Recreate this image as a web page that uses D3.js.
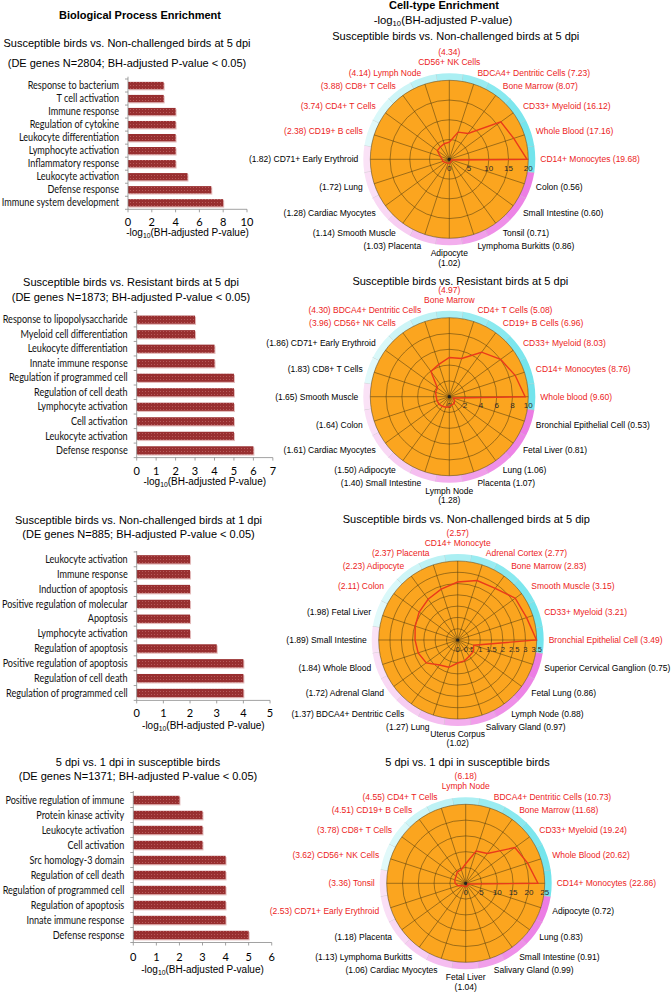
<!DOCTYPE html>
<html><head><meta charset="utf-8">
<script src="https://cdn.jsdelivr.net/npm/d3@7"></script>
<style>body{margin:0;background:#fff}svg{display:block}</style>
</head><body>
<svg id="c" width="672" height="992"></svg>
<script>
// ---------------- DATA ----------------
// Biological process enrichment (bar charts)
const bpTitles = [
  ["Susceptible birds vs. Non-challenged birds at 5 dpi", "(DE genes N=2804; BH-adjusted P-value < 0.05)"],
  ["Susceptible birds vs. Resistant birds at 5 dpi", "(DE genes N=1873; BH-adjusted P-value < 0.05)"],
  ["Susceptible birds vs. Non-challenged birds at 1 dpi", "(DE genes N=885; BH-adjusted P-value < 0.05)"],
  ["5 dpi vs. 1 dpi in susceptible birds", "(DE genes N=1371; BH-adjusted P-value < 0.05)"]
];
const bpCats1 = ["Response to bacterium","T cell activation","Immune response","Regulation of cytokine","Leukocyte differentiation","Lymphocyte activation","Inflammatory response","Leukocyte activation","Defense response","Immune system development"];
const bpVals1 = [3,3,4,4,4,4,4,5,7,8];
const bpCats2 = ["Response to lipopolysaccharide","Myeloid cell differentiation","Leukocyte differentiation","Innate immune response","Regulation if programmed cell","Regulation of cell death","Lymphocyte activation","Cell activation","Leukocyte activation","Defense response"];
const bpVals2 = [3,3,4,4,5,5,5,5,5,6];
const bpCats3 = ["Leukocyte activation","Immune response","Induction of apoptosis","Positive regulation of molecular","Apoptosis","Lymphocyte activation","Regulation of apoptosis","Positive regulation of apoptosis","Regulation of cell death","Regulation of programmed cell"];
const bpVals3 = [2,2,2,2,2,2,3,4,4,4];
const bpCats4 = ["Positive regulation of immune","Protein kinase activity","Leukocyte activation","Cell activation","Src homology-3 domain","Regulation of cell death","Regulation of programmed cell","Regulation of apoptosis","Innate immune response","Defense response"];
const bpVals4 = [2,3,3,3,4,4,4,4,4,5];
const bpAxisMax = [10,7,5,6];
const bpTickStep = [2,1,1,1];

// Cell-type enrichment (radar charts), counter-clockwise from 3 o'clock
const ctTitles = [
  "Susceptible birds vs. Non-challenged birds at 5 dpi",
  "Susceptible birds vs. Resistant birds at 5 dpi",
  "Susceptible birds vs. Non-challenged birds at 5 dip",
  "5 dpi vs. 1 dpi in susceptible birds"
];
const ctNames1 = ["CD14+ Monocytes","Whole Blood","CD33+ Myeloid","Bone Marrow","BDCA4+ Dentritic Cells","CD56+ NK Cells","Lymph Node","CD8+ T Cells","CD4+ T Cells","CD19+ B cells","CD71+ Early Erythroid","Lung","Cardiac Myocytes","Smooth Muscle","Placenta","Adipocyte","Lymphoma Burkitts","Tonsil","Small Intestine","Colon"];
const ctVals1 = [19.68,17.16,16.12,8.07,7.23,4.34,4.14,3.88,3.74,2.38,1.82,1.72,1.28,1.14,1.03,1.02,0.86,0.71,0.60,0.56];
const ctNames2 = ["Whole blood","CD14+ Monocytes","CD33+ Myeloid","CD19+ B Cells","CD4+ T Cells","Bone Marrow","BDCA4+ Dentritic Cells","CD56+ NK Cells","CD71+ Early Erythroid","CD8+ T Cells","Smooth Muscle","Colon","Cardiac Myocytes","Adipocyte","Small Intestine","Lymph Node","Placenta","Lung","Fetal Liver","Bronchial Epithelial Cell"];
const ctVals2 = [9.60,8.76,8.03,6.96,5.08,4.97,4.30,3.96,1.86,1.83,1.65,1.64,1.61,1.50,1.40,1.28,1.07,1.06,0.81,0.53];
const ctNames3 = ["Bronchial Epithelial Cell","CD33+ Myeloid","Smooth Muscle","Bone Marrow","Adrenal Cortex","CD14+ Monocyte","Placenta","Adipocyte","Colon","Fetal Liver","Small Intestine","Whole Blood","Adrenal Gland","BDCA4+ Dentritic Cells","Lung","Uterus Corpus","Salivary Gland","Lymph Node","Fetal Lung","Superior Cervical Ganglion"];
const ctVals3 = [3.49,3.21,3.15,2.83,2.77,2.57,2.37,2.23,2.11,1.98,1.89,1.84,1.72,1.37,1.27,1.02,0.97,0.88,0.86,0.75];
const ctNames4 = ["CD14+ Monocytes","Whole Blood","CD33+ Myeloid","Bone Marrow","BDCA4+ Dentritic Cells","Lymph Node","CD4+ T Cells","CD19+ B Cells","CD8+ T Cells","CD56+ NK Cells","Tonsil","CD71+ Early Erythroid","Placenta","Lymphoma Burkitts","Cardiac Myocytes","Fetal Liver","Salivary Gland","Small Intestine","Lung","Adipocyte"];
const ctVals4 = [22.86,20.62,19.24,11.68,10.73,6.18,4.55,4.51,3.78,3.62,3.36,2.53,1.18,1.13,1.06,1.04,0.99,0.91,0.83,0.72];
const ctAxisMax = [20,10,3.5,25];
const ctTickStep = [5,2,0.5,5];
const ctSignif = 2;

// ---------------- LAYOUT ----------------
const svg = d3.select("#c");
const SANS = "'Liberation Sans', Arial, sans-serif";
const CAT = "Lato, 'Open Sans', sans-serif";

const defs = svg.append("defs");
const pat = defs.append("pattern").attr("id","dots").attr("width",3).attr("height",3).attr("patternUnits","userSpaceOnUse");
pat.append("rect").attr("width",3).attr("height",3).attr("fill","#982f30");
pat.append("rect").attr("x",1).attr("y",1).attr("width",1).attr("height",1).attr("fill","#b65a5a");

function txt(g, x, y, s, size, opts={}) {
  const t = g.append("text").attr("x",x).attr("y",y).attr("dy","0.35em")
    .attr("font-family", opts.family || SANS).attr("font-size", size)
    .attr("text-anchor", opts.anchor || "middle").attr("fill", opts.fill || "#000")
    .attr("font-weight", opts.weight || "normal").text(s);
  return t;
}

function axisTitle(g, x, y, size) {
  const t = g.append("text").attr("x",x).attr("y",y).attr("dy","0.35em")
    .attr("font-family",SANS).attr("font-size",size).attr("text-anchor","middle");
  t.append("tspan").text("-log");
  t.append("tspan").attr("font-size",size*0.68).attr("dy","0.3em").text("10");
  t.append("tspan").attr("dy","-0.2em").text("(BH-adjusted P-value)");
}

// headers
txt(svg, 140, 15, "Biological Process Enrichment", 11, {weight:"bold"});
txt(svg, 444, 5, "Cell-type Enrichment", 11, {weight:"bold"});
axisTitle(svg, 443, 20, 11.3);

// category label font: Lato, condensed to Calibri-like widths
const CAT_SIZE = 10.6;
const probe = svg.append("text").attr("font-family",CAT).attr("font-size",CAT_SIZE).text("Response to lipopolysaccharide");
const catSqueeze = 125 / probe.node().getComputedTextLength();
probe.remove();

const bpLayout = [
  {x0:128, unit:11.9, yTop:79, yBot:209.3, axisTop:76.7, tcx:127, t1:43, t2:63, tickY:222, titleY:232},
  {x0:136.7, unit:19.45, yTop:312.4, yBot:457.6, axisTop:310, tcx:131, t1:282, t2:297, tickY:470.7, titleY:481.7},
  {x0:136.7, unit:26.67, yTop:551.9, yBot:700.4, axisTop:551, tcx:138.5, t1:520, t2:534, tickY:713, titleY:725},
  {x0:133.3, unit:23.07, yTop:792.5, yBot:942.5, axisTop:791, tcx:138, t1:761.7, t2:776, tickY:956.7, titleY:969}
];
const bpCats = [bpCats1,bpCats2,bpCats3,bpCats4];
const bpVals = [bpVals1,bpVals2,bpVals3,bpVals4];

function barChart(k) {
  const L = bpLayout[k], cats = bpCats[k], vals = bpVals[k];
  const g = svg.append("g");
  txt(g, L.tcx, L.t1, bpTitles[k][0], 11);
  txt(g, L.tcx, L.t2, bpTitles[k][1], 11);
  const x = d3.scaleLinear().domain([0, bpAxisMax[k]]).range([L.x0, L.x0 + L.unit*bpAxisMax[k]]);
  const y = d3.scaleBand().domain(cats).range([L.yTop, L.yBot]).paddingInner(0.44).paddingOuter(0.22);
  const data = cats.map((c,i)=>({c, v: vals[i]}));
  g.selectAll(".sh").data(data).join("rect")
    .attr("x", x(0)+1).attr("y", d=>y(d.c)+1.2)
    .attr("width", d=>x(d.v)-x(0)).attr("height", y.bandwidth())
    .attr("fill","#e4bcbc");
  g.selectAll(".bar").data(data).join("rect")
    .attr("x", x(0)).attr("y", d=>y(d.c))
    .attr("width", d=>x(d.v)-x(0)).attr("height", y.bandwidth())
    .attr("fill","url(#dots)");
  data.forEach(d => {
    const t = txt(g, L.x0 - 9, y(d.c) + y.bandwidth()/2, d.c, CAT_SIZE, {family:CAT, anchor:"end", fill:"#111"});
    const w = t.node().getComputedTextLength();
    t.attr("textLength", w * catSqueeze).attr("lengthAdjust", "spacingAndGlyphs");
  });
  g.append("line").attr("x1",L.x0).attr("x2",L.x0).attr("y1",L.axisTop).attr("y2",L.yBot).attr("stroke","#8a8a8a").attr("stroke-width",0.8);
  const step = y.step();
  d3.range(cats.length+1).forEach(i => {
    const yy = L.yTop + i*step;
    g.append("line").attr("x1",L.x0-3).attr("x2",L.x0).attr("y1",yy).attr("y2",yy).attr("stroke","#8a8a8a").attr("stroke-width",0.8);
  });
  g.append("line").attr("x1",x(0)).attr("x2",x(bpAxisMax[k])).attr("y1",L.yBot).attr("y2",L.yBot).attr("stroke","#8a8a8a").attr("stroke-width",0.8);
  const ticks = d3.range(0, bpAxisMax[k] + 1e-9, bpTickStep[k]);
  ticks.forEach(t => {
    g.append("line").attr("x1",x(t)).attr("x2",x(t)).attr("y1",L.yBot).attr("y2",L.yBot+3).attr("stroke","#8a8a8a").attr("stroke-width",0.8);
    txt(g, x(t), L.tickY, String(t), 11, {family:CAT});
  });
  axisTitle(g, x(0) + (x(bpAxisMax[k]) - x(0))/2, L.titleY, 10);
}
[0,1,2,3].forEach(barChart);

// ---------------- RADARS ----------------
const ctLayout = [
  {cx:449.3, cy:159.3, tx:455.8, ty:36},
  {cx:449.3, cy:396.7, tx:460.3, ty:280.7},
  {cx:457.7, cy:640, tx:466.3, ty:519.3},
  {cx:465.7, cy:883.3, tx:467.5, ty:761.7}
];
const ctNames = [ctNames1,ctNames2,ctNames3,ctNames4];
const ctVals = [ctVals1,ctVals2,ctVals3,ctVals4];
const R = 79, RB = 86, RL = 91;
const cyanI = d3.interpolateRgb("#e4fafa", "#72e4ec");
const pinkI = d3.interpolateRgb("#fae2f6", "#ec7ae4");

function radar(k) {
  const L = ctLayout[k], names = ctNames[k], vals = ctVals[k], n = names.length;
  const g = svg.append("g");
  txt(g, L.tx, L.ty, ctTitles[k], 11);
  const r = d3.scaleLinear().domain([0, ctAxisMax[k]]).range([0, R]);
  const ang = d3.scaleLinear().domain([0, n]).range([0, 2*Math.PI]);
  const half = Math.PI / n;
  const P = (a, rr) => [L.cx + rr*Math.cos(a), L.cy - rr*Math.sin(a)];
  const gc = g.append("g").attr("transform", `translate(${L.cx},${L.cy})`);
  const arc = d3.arc().innerRadius(R).outerRadius(RB);
  d3.range(n).forEach(i => {
    const a = ang(i);
    const t = (1 + Math.cos(a)) / 2;
    const col = i < n/2 ? cyanI(t) : pinkI(t);
    gc.append("path").attr("d", arc({startAngle: Math.PI/2 - a - half, endAngle: Math.PI/2 - a + half}))
      .attr("fill", col);
    const b = a + half;
    gc.append("line").attr("x1", R*Math.cos(b)).attr("y1", -R*Math.sin(b))
      .attr("x2", RB*Math.cos(b)).attr("y2", -RB*Math.sin(b))
      .attr("stroke","#b8b8b8").attr("stroke-width",0.6);
  });
  gc.append("circle").attr("r", R).attr("fill", "#fba51f");
  const ticks = d3.range(0, ctAxisMax[k] + 1e-9, ctTickStep[k]);
  ticks.slice(1).forEach(t => gc.append("circle").attr("r", r(t)).attr("fill","none").attr("stroke","#4a3810").attr("stroke-opacity",0.8).attr("stroke-width",0.65));
  d3.range(n).forEach(i => {
    const a = ang(i);
    gc.append("line").attr("x1",0).attr("y1",0).attr("x2", R*Math.cos(a)).attr("y2", -R*Math.sin(a))
      .attr("stroke","#4a3810").attr("stroke-opacity",0.8).attr("stroke-width",0.65);
  });
  gc.append("circle").attr("r",1.6).attr("fill","#222");
  ticks.forEach(t => txt(gc, r(t), 9, String(t), k===2 ? 7.5 : 8, {fill:"#2a2a2a"}));
  const line = d3.line().curve(d3.curveLinearClosed);
  const pts = vals.map((v,i) => [r(v)*Math.cos(ang(i)), -r(v)*Math.sin(ang(i))]);
  gc.append("path").attr("d", line(pts)).attr("fill","none").attr("stroke","#ea3a1a").attr("stroke-width",1.4).attr("stroke-linejoin","miter");
  const LS = 8.5;
  names.forEach((nm, i) => {
    const v = vals[i], vs = "(" + v.toFixed(2) + ")";
    const col = v > ctSignif ? "#ec1c1c" : "#000";
    const a = ang(i);
    if (i === n/4) {
      txt(g, L.cx, L.cy - 107, vs, LS, {fill:col});
      txt(g, L.cx, L.cy - 97, nm, LS, {fill:col});
    } else if (i === 3*n/4) {
      txt(g, L.cx, L.cy + 94, nm, LS, {fill:col});
      txt(g, L.cx, L.cy + 103.5, vs, LS, {fill:col});
    } else {
      const [px, py] = P(a, RL);
      const right = Math.cos(a) > 0;
      txt(g, px, py, right ? nm + " " + vs : vs + " " + nm, LS, {fill:col, anchor: right ? "start" : "end"});
    }
  });
}
[0,1,2,3].forEach(radar);
</script>
</body></html>
